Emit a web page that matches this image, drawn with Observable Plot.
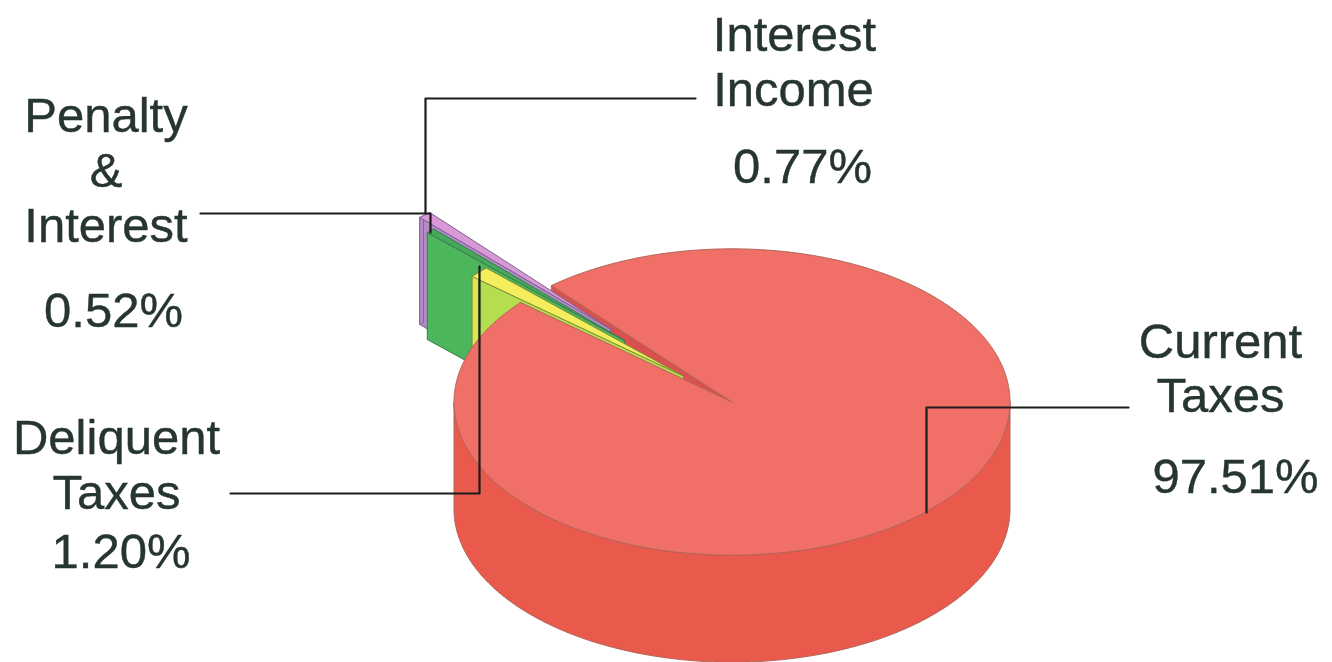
<!DOCTYPE html>
<html>
<head>
<meta charset="utf-8">
<script src="https://cdn.jsdelivr.net/npm/d3@7"></script>
<script src="https://cdn.jsdelivr.net/npm/@observablehq/plot@0.6"></script>
<style>
  html, body { margin: 0; padding: 0; background: #fff; overflow: hidden; }
  svg { display: block; }
</style>
</head>
<body>
<div id="chart"></div>
<script>
// Revenue shares, in pie order
const sliceIds = ["deliquent", "penalty", "interest", "current"];
const sliceValues = [1.20, 0.52, 0.77, 97.51];
const labelLines = {
  deliquent: ["Deliquent", "Taxes"],
  penalty: ["Penalty", "&", "Interest"],
  interest: ["Interest", "Income"],
  current: ["Current", "Taxes"]
};

// Pie projection, in SVG units
const W = 1332, H = 662;
const CX = 731.5, CY = 401.5, R = 278, TILT = 0.551, DEPTH = 107;
const START_ANGLE = 40.5;
const explode = {
  deliquent: [-48.5, -26],
  penalty: [-107.5, -61.5],
  interest: [-121.5, -73],
  current: [0, 0]
};
const sliceColors = {
  current: {top: "#f06f66", wall: "#e95a4c", stroke: "#b0655a"},
  deliquent: {top: "#f5ee5c", wall: "#b4de50", end: "#dde650", stroke: "#7d8f3c"},
  penalty: {top: "#45a85a", wall: "#4db65c", stroke: "#3c7d4c"},
  interest: {top: "#d998d8", wall: "#b58ac8", end: "#bd8dcb", stroke: "#7d6290"}
};

// Angles run clockwise on screen, starting from the left of the pie
let running = START_ANGLE;
const slices = sliceIds.map((id, i) => {
  const from = running;
  running += sliceValues[i] * 3.6;
  return {id, value: sliceValues[i], from, to: running, offset: explode[id]};
});
const sliceById = Object.fromEntries(slices.map(s => [s.id, s]));

function rim(slice, deg, drop = 0) {
  const t = deg * Math.PI / 180;
  return [
    CX + slice.offset[0] - R * Math.cos(t),
    CY + slice.offset[1] - R * TILT * Math.sin(t) + drop
  ];
}
const apex = (slice, drop = 0) => [CX + slice.offset[0], CY + slice.offset[1] + drop];

function arc(slice, a, b, drop = 0) {
  const n = Math.max(2, Math.ceil(Math.abs(b - a) * 2));
  return d3.range(n + 1).map(i => rim(slice, a + (b - a) * i / n, drop));
}
const closed = pts => [...pts, pts[0]];
const topFace = s => closed([apex(s), ...arc(s, s.from, s.to)]);
const edgeWall = (s, deg) => closed([apex(s), rim(s, deg), rim(s, deg, DEPTH), apex(s, DEPTH)]);
const rimWall = (s, a, b) => closed([...arc(s, a, b), ...arc(s, b, a, DEPTH)]);

const poly = (pts, fill, stroke, strokeWidth = 1) =>
  Plot.line(pts, {x: d => d[0], y: d => d[1], fill, stroke, strokeWidth, curve: "linear", strokeLinejoin: "round"});

const cur = sliceById.current, del = sliceById.deliquent, pen = sliceById.penalty, int = sliceById.interest;
const cc = sliceColors;

const pieMarks = [
  // far wall of the notch in the main slice
  poly(edgeWall(cur, cur.from), "#d9504f", cc.current.stroke),
  // front rim of the main slice
  poly(rimWall(cur, 180, 360), cc.current.wall, cc.current.stroke),

  poly(edgeWall(int, int.from), cc.interest.wall, cc.interest.stroke),
  poly(rimWall(int, int.from, int.from + 1), cc.interest.end, cc.interest.stroke),
  poly(topFace(int), cc.interest.top, cc.interest.stroke),

  poly(edgeWall(pen, pen.from), cc.penalty.wall, cc.penalty.stroke),
  poly(topFace(pen), cc.penalty.top, cc.penalty.stroke),

  poly(edgeWall(del, del.from), cc.deliquent.wall, cc.deliquent.stroke),
  poly(rimWall(del, del.from, del.from + 2.1), cc.deliquent.end, cc.deliquent.stroke),
  poly(topFace(del), cc.deliquent.top, cc.deliquent.stroke),

  // main slice top sits over the bases of the exploded walls
  poly(topFace(cur), cc.current.top, cc.current.stroke)
];

// Leader lines, elbowed from the label to the slice
const leaders = [
  [[695, 98], [425, 98], [425, 213]],
  [[200, 213], [430, 213], [430, 232]],
  [[230, 493], [479, 493], [479, 266]],
  [[1128, 407], [926, 407], [926, 512]]
];
const leaderMarks = leaders.map(pts =>
  Plot.line(pts, {x: d => d[0], y: d => d[1], stroke: "#1c1c1c", strokeWidth: 2.2, curve: "linear"}));

// Where each label's lines sit: text centre, then one baseline per line
const labelSpots = {
  interest: {cx: [794, 793, 802], base: [50.5, 105.5, 182]},
  penalty: {cx: [105.5, 105.5, 105.5, 113], base: [131, 186, 241, 326.5]},
  deliquent: {cx: [116, 116, 120.5], base: [453.5, 508.5, 567.5]},
  current: {cx: [1220, 1220, 1235], base: [357, 411.5, 492.5]}
};
const labelRows = slices.flatMap(s => {
  const rows = [...labelLines[s.id], s.value.toFixed(2) + "%"];
  return rows.map((text, i) => ({text, x: labelSpots[s.id].cx[i], y: labelSpots[s.id].base[i]}));
});

const chart = Plot.plot({
  width: W,
  height: H,
  margin: 0,
  style: {background: "#fff"},
  x: {type: "linear", domain: [0, W], range: [0, W], axis: null},
  y: {type: "linear", domain: [0, H], range: [0, H], axis: null},
  marks: [
    ...pieMarks,
    ...leaderMarks,
    Plot.text(labelRows, {
      x: "x", y: "y", text: "text",
      textAnchor: "middle", lineAnchor: "bottom",
      fontFamily: "Liberation Sans", fontSize: 49, fill: "#26352f",
      stroke: "#26352f", strokeWidth: 0.4
    })
  ]
});
document.getElementById("chart").append(chart);
</script>
</body>
</html>
